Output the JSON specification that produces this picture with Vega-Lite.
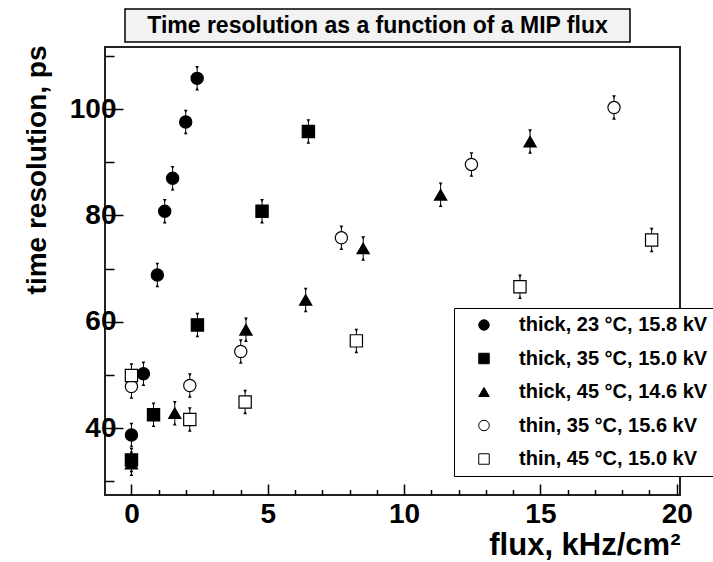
{
  "$schema": "https://vega.github.io/schema/vega-lite/v6.json",
  "background": "white",
  "padding": {"left": 22, "top": 8, "right": 0, "bottom": 0},
  "config": {"font": "Liberation Sans", "view": {"stroke": null}, "axis": {"labelFontSize": 28, "labelFont": "Liberation Sans", "labelFontWeight": "bold"}},
  "spacing": -2,
  "datasets": {
    "ttl": [{"t": "Time resolution as a function of a MIP flux"}],
    "blank": [{"t": ""}],
    "pts": [
      {"series": "thick, 23 °C, 15.8 kV", "x": 0, "y": 38.7, "lo": 36.7, "hi": 40.7},
      {"series": "thick, 23 °C, 15.8 kV", "x": 0.44, "y": 50.2, "lo": 48.2, "hi": 52.2},
      {"series": "thick, 23 °C, 15.8 kV", "x": 0.95, "y": 68.8, "lo": 66.8, "hi": 70.8},
      {"series": "thick, 23 °C, 15.8 kV", "x": 1.22, "y": 80.8, "lo": 78.8, "hi": 82.8},
      {"series": "thick, 23 °C, 15.8 kV", "x": 1.51, "y": 87.0, "lo": 85.0, "hi": 89.0},
      {"series": "thick, 23 °C, 15.8 kV", "x": 1.99, "y": 97.6, "lo": 95.6, "hi": 99.6},
      {"series": "thick, 23 °C, 15.8 kV", "x": 2.41, "y": 105.8, "lo": 103.8, "hi": 107.8},
      {"series": "thick, 35 °C, 15.0 kV", "x": 0, "y": 34.0, "lo": 32.0, "hi": 36.0},
      {"series": "thick, 35 °C, 15.0 kV", "x": 0.81, "y": 42.5, "lo": 40.5, "hi": 44.5},
      {"series": "thick, 35 °C, 15.0 kV", "x": 2.42, "y": 59.4, "lo": 57.4, "hi": 61.4},
      {"series": "thick, 35 °C, 15.0 kV", "x": 4.79, "y": 80.8, "lo": 78.8, "hi": 82.8},
      {"series": "thick, 35 °C, 15.0 kV", "x": 6.49, "y": 95.8, "lo": 93.8, "hi": 97.8},
      {"series": "thick, 45 °C, 14.6 kV", "x": 0, "y": 33.3, "lo": 31.3, "hi": 35.3},
      {"series": "thick, 45 °C, 14.6 kV", "x": 1.59, "y": 42.8, "lo": 40.8, "hi": 44.8},
      {"series": "thick, 45 °C, 14.6 kV", "x": 4.2, "y": 58.5, "lo": 56.5, "hi": 60.5},
      {"series": "thick, 45 °C, 14.6 kV", "x": 6.39, "y": 64.1, "lo": 62.1, "hi": 66.1},
      {"series": "thick, 45 °C, 14.6 kV", "x": 8.5, "y": 73.8, "lo": 71.8, "hi": 75.8},
      {"series": "thick, 45 °C, 14.6 kV", "x": 11.34, "y": 83.9, "lo": 81.9, "hi": 85.9},
      {"series": "thick, 45 °C, 14.6 kV", "x": 14.62, "y": 93.9, "lo": 91.9, "hi": 95.9},
      {"series": "thin, 35 °C, 15.6 kV", "x": 0, "y": 47.8, "lo": 45.8, "hi": 49.8},
      {"series": "thin, 35 °C, 15.6 kV", "x": 2.14, "y": 48.0, "lo": 46.0, "hi": 50.0},
      {"series": "thin, 35 °C, 15.6 kV", "x": 4.01, "y": 54.4, "lo": 52.4, "hi": 56.4},
      {"series": "thin, 35 °C, 15.6 kV", "x": 7.7, "y": 75.8, "lo": 73.8, "hi": 77.8},
      {"series": "thin, 35 °C, 15.6 kV", "x": 12.47, "y": 89.6, "lo": 87.6, "hi": 91.6},
      {"series": "thin, 35 °C, 15.6 kV", "x": 17.7, "y": 100.3, "lo": 98.3, "hi": 102.3},
      {"series": "thin, 45 °C, 15.0 kV", "x": 0, "y": 49.9, "lo": 47.9, "hi": 51.9},
      {"series": "thin, 45 °C, 15.0 kV", "x": 2.14, "y": 41.6, "lo": 39.6, "hi": 43.6},
      {"series": "thin, 45 °C, 15.0 kV", "x": 4.17, "y": 44.9, "lo": 42.9, "hi": 46.9},
      {"series": "thin, 45 °C, 15.0 kV", "x": 8.25, "y": 56.4, "lo": 54.4, "hi": 58.4},
      {"series": "thin, 45 °C, 15.0 kV", "x": 14.25, "y": 66.6, "lo": 64.6, "hi": 68.6},
      {"series": "thin, 45 °C, 15.0 kV", "x": 19.08, "y": 75.4, "lo": 73.4, "hi": 77.4}
    ]
  },
  "vconcat": [
    {
      "spacing": 0,
      "hconcat": [
        {
          "width": 19,
          "height": 33,
          "data": {"name": "blank"},
          "mark": {"type": "text", "opacity": 0},
          "encoding": {"text": {"field": "t"}}
        },
        {
          "width": 505,
          "height": 33,
          "data": {"name": "ttl"},
          "view": {"stroke": "black", "strokeWidth": 1.5, "fill": "#f2f2f2"},
          "mark": {"type": "text", "font": "Liberation Sans", "fontWeight": "bold", "fontSize": 23, "color": "black"},
          "encoding": {"text": {"field": "t"}}
        }
      ]
    },
    {
      "width": 575,
      "height": 448,
      "data": {"name": "pts"},
      "view": {"stroke": "#222", "strokeWidth": 2, "fill": "white"},
      "encoding": {
        "x": {
          "field": "x",
          "type": "quantitative",
          "scale": {"domain": [-0.97, 20.12], "nice": false, "zero": false},
          "axis": {
            "title": "flux, kHz/cm²",
            "titleAnchor": "end",
            "titleFont": "Liberation Sans",
            "titleFontWeight": "bold",
            "titleFontSize": 31,
            "titleColor": "black",
            "titlePadding": -3,
            "values": [0,1,2,3,4,5,6,7,8,9,10,11,12,13,14,15,16,17,18,19,20],
            "labelExpr": "datum.value % 5 === 0 ? datum.label : ''",
            "labelFont": "Liberation Sans",
            "labelFontWeight": "bold",
            "labelFontSize": 28,
            "labelColor": "black",
            "labelOverlap": false,
            "labelFlush": false,
            "labelBound": false,
            "labelPadding": 16,
            "grid": false,
            "domain": false,
            "tickColor": "black",
            "tickWidth": 1.5,
            "tickSize": {"condition": {"test": "datum.value % 5 === 0", "value": -11}, "value": -5.5}
          }
        }
      },
      "layer": [
        {
          "mark": {"type": "rule", "color": "black", "strokeWidth": 1},
          "encoding": {
            "y": {
              "field": "lo",
              "type": "quantitative",
              "title": "time resolution, ps",
              "scale": {"domain": [27.4, 111.7], "nice": false, "zero": false},
              "axis": {
                "title": "time resolution, ps",
                "titleFont": "Liberation Sans",
                "titleFontWeight": "bold",
                "titleFontSize": 28,
                "titleColor": "black",
                "titleAngle": 270,
                "titleAlign": "right",
                "titleBaseline": "bottom",
                "titleX": -54,
                "titleY": -2,
                "values": [30,35,40,45,50,55,60,65,70,75,80,85,90,95,100,105,110],
                "labelExpr": "datum.value % 20 === 0 ? datum.label : ''",
                "labelFont": "Liberation Sans",
                "labelFontWeight": "bold",
                "labelFontSize": 28,
                "labelColor": "black",
                "labelOverlap": false,
                "labelFlush": false,
                "labelBound": false,
                "labelPadding": 7,
                "grid": false,
                "domain": false,
                "tickColor": "black",
                "tickWidth": 1.5,
                "tickSize": {"condition": {"test": "datum.value % 20 === 0", "value": -18}, "value": -9}
              }
            },
            "y2": {"field": "hi"}
          }
        },
        {
          "mark": {"type": "point", "shape": "triangle-down", "filled": true, "color": "black", "size": 14, "opacity": 1},
          "encoding": {"y": {"field": "hi", "type": "quantitative", "title": "time resolution, ps"}}
        },
        {
          "mark": {"type": "point", "shape": "triangle-up", "filled": true, "color": "black", "size": 14, "opacity": 1},
          "encoding": {"y": {"field": "lo", "type": "quantitative", "title": "time resolution, ps"}}
        },
        {
          "mark": {"type": "point", "filled": true, "strokeWidth": 1.2, "size": 150, "opacity": 1},
          "encoding": {
            "y": {"field": "y", "type": "quantitative", "title": "time resolution, ps"},
            "shape": {
              "field": "series",
              "type": "nominal",
              "scale": {
                "domain": ["thick, 23 °C, 15.8 kV", "thick, 35 °C, 15.0 kV", "thick, 45 °C, 14.6 kV", "thin, 35 °C, 15.6 kV", "thin, 45 °C, 15.0 kV"],
                "range": ["circle", "square", "triangle-up", "circle", "square"]
              },
              "legend": {
                "title": null,
                "orient": "none",
                "legendX": 349,
                "legendY": 299,
                "direction": "vertical",
                "fillColor": "white",
                "strokeColor": "black",
                "padding": 7,
                "symbolOffset": 13,
                "symbolSize": 110,
                "symbolStrokeWidth": 1,
                "labelFont": "Liberation Sans",
                "labelFontWeight": "bold",
                "labelFontSize": 20,
                "labelColor": "black",
                "labelLimit": 500,
                "labelOffset": 25,
                "rowPadding": 13.5,
                "zindex": 2,
                "encode": {
                  "legend": {"update": {"strokeWidth": {"value": 1.5}}}
                }
              }
            },
            "fill": {
              "field": "series",
              "type": "nominal",
              "scale": {
                "domain": ["thick, 23 °C, 15.8 kV", "thick, 35 °C, 15.0 kV", "thick, 45 °C, 14.6 kV", "thin, 35 °C, 15.6 kV", "thin, 45 °C, 15.0 kV"],
                "range": ["black", "black", "black", "white", "white"]
              }
            },
            "stroke": {
              "field": "series",
              "type": "nominal",
              "scale": {
                "domain": ["thick, 23 °C, 15.8 kV", "thick, 35 °C, 15.0 kV", "thick, 45 °C, 14.6 kV", "thin, 35 °C, 15.6 kV", "thin, 45 °C, 15.0 kV"],
                "range": ["black", "black", "black", "black", "black"]
              }
            }
          }
        }
      ]
    }
  ]
}
